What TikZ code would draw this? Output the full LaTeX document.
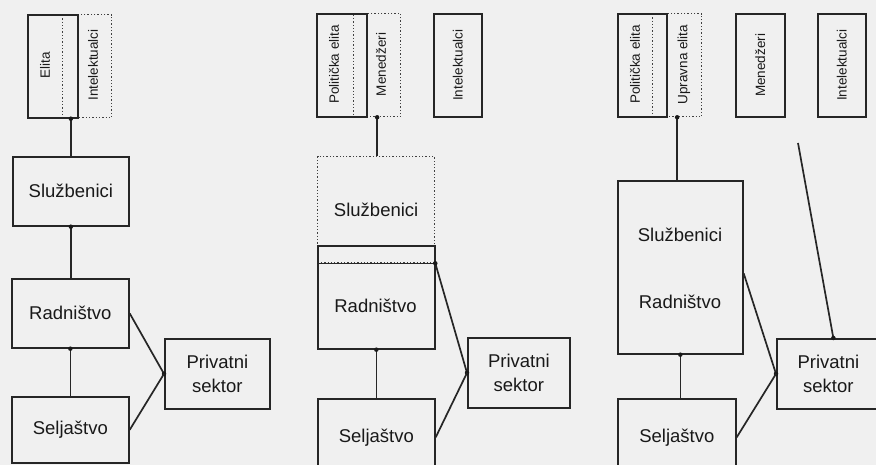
\documentclass[tikz,border=0pt]{standalone}
\usepackage{fontspec}
\setmainfont{Liberation Sans}
\tikzset{
  ln/.style={draw=black!85, line width=1.7pt},
  box/.style={ln, rectangle, inner sep=0pt, anchor=north west, align=center,
    font=\fontsize{18.5}{24}\selectfont, text=black!90},
  dbox/.style={draw=black!75, line width=1.3pt, dotted, rectangle, inner sep=0pt,
    anchor=north west, align=center, font=\fontsize{18.5}{24}\selectfont, text=black!90},
  vlab/.style={rotate=90, font=\fontsize{13.5}{16}\selectfont, inner sep=0pt, text=black!90},
  hlab/.style={font=\fontsize{18.5}{24}\selectfont, inner sep=0pt, text=black!90},
  dot/.style={circle, fill=black!90, inner sep=0pt, minimum size=4.5pt},
  con/.style={ln},
}
\newcommand\mybox[7]{\node[#1, minimum width={(#5-#3)*1pt}, minimum height={(#6-#4)*1pt}] (#2) at (#3,-#4) {#7};}
\begin{document}
\begin{tikzpicture}[x=1pt,y=1pt]
\useasboundingbox (0,0) rectangle (876,-465);
\clip (0,0) rectangle (876,-465);
\fill[black!6] (0,0) rectangle (876,-465);

% ---------- panel 1 ----------
\mybox{dbox}{i1}{62}{14}{111}{117}{}
\mybox{box}{e1}{27}{14}{77}{117}{}
\node[vlab] (e1l) at (45,-65) {Elita};
\node[vlab] (i1l) at (93,-65) {Intelektualci};
\mybox{box}{s1}{12}{156}{128}{225}{Službenici}
\mybox{box}{r1}{11}{278}{128}{347}{Radništvo}
\mybox{box}{j1}{11}{396}{128}{462}{Seljaštvo}
\mybox{box}{p1}{164}{338}{269}{408}{Privatni\\sektor}
\draw[con] (s1.north |- e1.south) node[dot] (d1a) {} -- (s1.north);
\draw[con] (s1.south) node[dot] (d1b) {} -- (s1.south |- r1.north);
\draw[con] (r1.south) node[dot] (d1c) {} -- (r1.south |- j1.north);
\draw[con] (r1.east) -- (p1.west) node[dot] (d1d) {};
\draw[con] (j1.east) -- (p1.west);

% ---------- panel 2 ----------
\mybox{dbox}{me2}{353}{13}{400}{116}{}
\mybox{box}{pe2}{316}{13}{366}{116}{}
\node[vlab] (pe2l) at (334,-64.5) {Politička elita};
\node[vlab] (me2l) at (381,-64.5) {Menedžeri};
\mybox{box}{in2}{433}{13}{481}{116}{}
\node[vlab] (in2l) at (in2.center) {Intelektualci};
\mybox{dbox}{s2}{317}{156}{434}{262}{Službenici}
\draw[con, line width=1.3pt] (s2.south west) -- (s2.south east);
\mybox{box}{r2}{317}{245}{434}{348}{}
\node[hlab] (r2l) at (375.5,-306) {Radništvo};
\mybox{box}{p2}{467}{337}{569}{407}{Privatni\\sektor}
\mybox{box}{j2}{317}{398}{434}{475}{Seljaštvo}
\draw[con] (me2.south) node[dot] (d2a) {} -- (me2.south |- s2.north);
\draw[con] (r2.south) node[dot] (d2b) {} -- (r2.south |- j2.north);
\draw[con] (s2.south east) node[dot] (d2c) {} -- (p2.west) node[dot] (d2d) {};
\draw[con] (j2.east) -- (p2.west);

% ---------- panel 3 ----------
\mybox{dbox}{ue3}{652}{13}{701}{116}{}
\mybox{box}{pe3}{617}{13}{666}{116}{}
\node[vlab] (pe3l) at (635,-64.5) {Politička elita};
\node[vlab] (ue3l) at (684,-64.5) {Upravna elita};
\mybox{box}{me3}{735}{13}{784}{116}{}
\node[vlab] (me3l) at (me3.center) {Menedžeri};
\mybox{box}{in3}{817}{13}{865}{116}{}
\node[vlab] (in3l) at (in3.center) {Intelektualci};
\mybox{box}{sr3}{617}{180}{742}{353}{}
\node[hlab] (sr3a) at (680,-235) {Službenici};
\node[hlab] (sr3b) at (680,-302) {Radništvo};
\mybox{box}{p3}{776}{338}{879}{408}{Privatni\\sektor}
\mybox{box}{j3}{617}{398}{735}{475}{Seljaštvo}
\coordinate (f3) at (798,-143);
\draw[con] (ue3.south) node[dot] (d3a) {} -- (ue3.south |- sr3.north);
\draw[con] (sr3.south) node[dot] (d3b) {} -- (sr3.south |- j3.north);
\draw[con] (f3) -- ([xshift=5pt]p3.north) node[dot] (d3c) {};
\draw[con] ([yshift=-6pt]sr3.east) -- (p3.west) node[dot] (d3d) {};
\draw[con] (j3.east) -- (p3.west);
\end{tikzpicture}
\end{document}
